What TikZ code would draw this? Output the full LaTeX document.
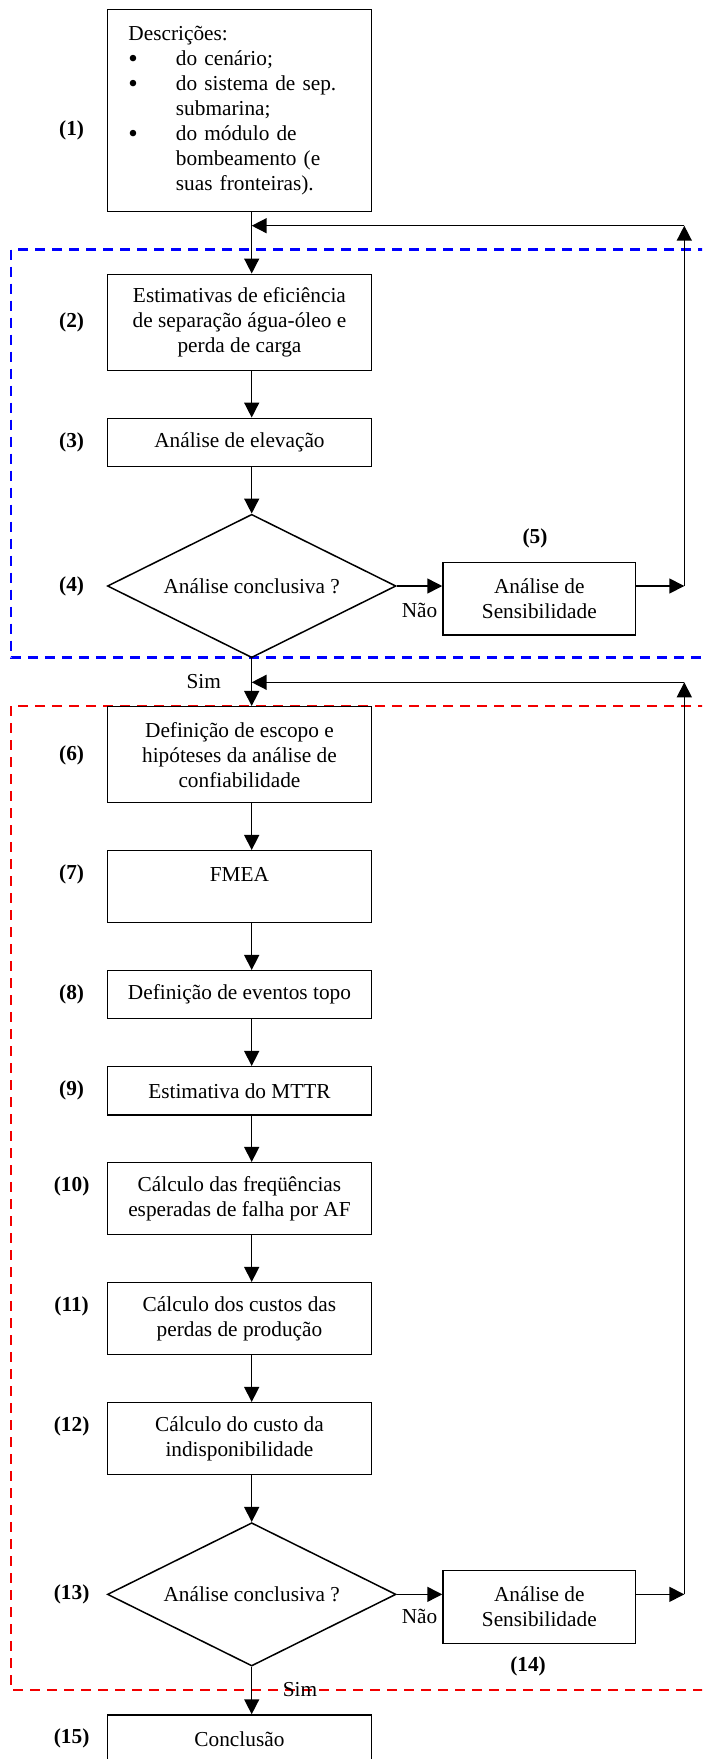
\documentclass[tikz,border=0pt]{standalone}
\usepackage{fontspec}
\setmainfont{Liberation Serif}
\usetikzlibrary{arrows.meta,shapes.geometric}
\newcommand{\bigdot}{\makebox[47.5pt][l]{\raisebox{-2.5pt}{\fontsize{27}{25}\selectfont\textbullet}}}
\begin{document}
\begin{tikzpicture}[x=1pt,y=-1pt,
  font=\fontsize{21.3}{25}\selectfont,
  box/.style={draw, line width=1.5pt, minimum width=264.1pt, align=center, inner sep=0pt},
  cond/.style={diamond, draw, line width=1.5pt, aspect=2, inner sep=0pt,
    minimum width=288.6pt, minimum height=143.4pt},
  sens/.style={draw, line width=1.5pt, minimum width=192.6pt, minimum height=72.7pt,
    align=center, inner sep=0pt},
  tag/.style={font=\fontsize{21.3}{25}\selectfont\bfseries},
  flow/.style={line width=1.5pt, -{Triangle[length=15pt,width=15pt]}},
  zone/.style={line width=2.5pt, dash pattern=on 10pt off 7pt},
]
\useasboundingbox (0,0) rectangle (702,1759);
\clip (0,0) rectangle (702,1759);

% phase frames (open to the right)
\draw[zone, blue] (725,249.5) -- (11,249.5) -- (11,657.7) -- (725,657.7);
\draw[zone, red!95!black] (725,706) -- (11,706) -- (11,1690) -- (725,1690);

% first phase
\node[box, minimum height=202.4pt, text width=222pt, align=left] (b1) at (239.45,110.5)
  {Descrições:\\
   \bigdot do cenário;\\
   \bigdot do sistema de sep.\\
   \hspace*{47.5pt}submarina;\\
   \bigdot do módulo de\\
   \hspace*{47.5pt}bombeamento (e\\
   \hspace*{47.5pt}suas fronteiras).};
\node[box, minimum height=96.4pt] (b2) at (239.45,322.5)
  {Estimativas de eficiência\\de separação água-óleo e\\perda de carga};
\node[box, minimum height=48.4pt] (b3) at (239.45,442.5) {Análise de elevação};
\node[cond] (d4) at (251.7,586) {Análise conclusiva ?};
\node[sens] (s5) at (539.3,598.65) {Análise de\\Sensibilidade};

% second phase
\node[box, minimum height=96pt] (b6) at (239.45,754.7)
  {Definição de escopo e\\hipóteses da análise de\\confiabilidade};
\node[box, minimum height=72pt] (b7) at (239.45,886.7) {FMEA\\\mbox{}};
\node[box, minimum height=48pt] (b8) at (239.45,994.7) {Definição de eventos topo};
\node[box, minimum height=48.3pt] (b9) at (239.45,1090.85) {Estimativa do MTTR};
\node[box, minimum height=72pt] (b10) at (239.45,1198.7)
  {Cálculo das freqüências\\esperadas de falha por AF};
\node[box, minimum height=72pt] (b11) at (239.45,1318.7)
  {Cálculo dos custos das\\perdas de produção};
\node[box, minimum height=72pt] (b12) at (239.45,1438.7)
  {Cálculo do custo da\\indisponibilidade};
\node[cond, minimum height=143.3pt] (d13) at (251.7,1594.35) {Análise conclusiva ?};
\node[sens, minimum height=72.6pt] (s14) at (539.3,1607) {Análise de\\Sensibilidade};
\node[box, minimum height=48pt] (b15) at (239.45,1739) {Conclusão};

% step numbers
\node[tag] (t1) at (71.6,130) {(1)};
\node[tag] (t2) at (71.6,322.7) {(2)};
\node[tag] (t3) at (71.6,442.3) {(3)};
\node[tag] (t4) at (71.6,586) {(4)};
\node[tag] (t5) at (535,538.3) {(5)};
\node[tag] (t6) at (71.6,755) {(6)};
\node[tag] (t7) at (71.6,874) {(7)};
\node[tag] (t8) at (71.6,994.3) {(8)};
\node[tag] (t9) at (71.6,1090) {(9)};
\node[tag] (t10) at (71.6,1186.7) {(10)};
\node[tag] (t11) at (71.6,1306.7) {(11)};
\node[tag] (t12) at (71.6,1426.7) {(12)};
\node[tag] (t13) at (71.6,1594.3) {(13)};
\node[tag] (t14) at (528,1666.7) {(14)};
\node[tag] (t15) at (71.6,1738) {(15)};

% branch labels
\node (n4) at (419.6,610) {Não};
\node (y4) at (203.7,681.7) {Sim};
\node (n13) at (419.6,1616.7) {Não};
\node (y13) at (300,1690) {Sim};

% loop corners
\coordinate (c1) at (684.3,586);
\coordinate (c2) at (684.3,225.7);
\coordinate (c3) at (684.3,1594.35);
\coordinate (c4) at (684.3,682.3);

% main flow
\draw[flow] (b1.south -| d4.center) -- (b2.north -| d4.center);
\draw[flow] (b2.south -| d4.center) -- (b3.north -| d4.center);
\draw[flow] (b3.south -| d4.center) -- (d4.north);
\draw[flow] (d4.east) -- (d4.east -| s5.west);
\draw[flow] (s5.east |- d4.east) -- (c1);
\draw[flow] (c1) -- (c2);
\draw[flow] (c2) -- (c2 -| d4.center);

\draw[flow] (d4.south) -- (b6.north -| d4.center);
\draw[flow] (b6.south -| d4.center) -- (b7.north -| d4.center);
\draw[flow] (b7.south -| d4.center) -- (b8.north -| d4.center);
\draw[flow] (b8.south -| d4.center) -- (b9.north -| d4.center);
\draw[flow] (b9.south -| d4.center) -- (b10.north -| d4.center);
\draw[flow] (b10.south -| d4.center) -- (b11.north -| d4.center);
\draw[flow] (b11.south -| d4.center) -- (b12.north -| d4.center);
\draw[flow] (b12.south -| d13.center) -- (d13.north);
\draw[flow] (d13.east) -- (d13.east -| s14.west);
\draw[flow] (s14.east |- d13.east) -- (c3);
\draw[flow] (c3) -- (c4);
\draw[flow] (c4) -- (c4 -| d13.center);
\draw[flow] (d13.south) -- (b15.north -| d13.center);
\end{tikzpicture}
\end{document}
